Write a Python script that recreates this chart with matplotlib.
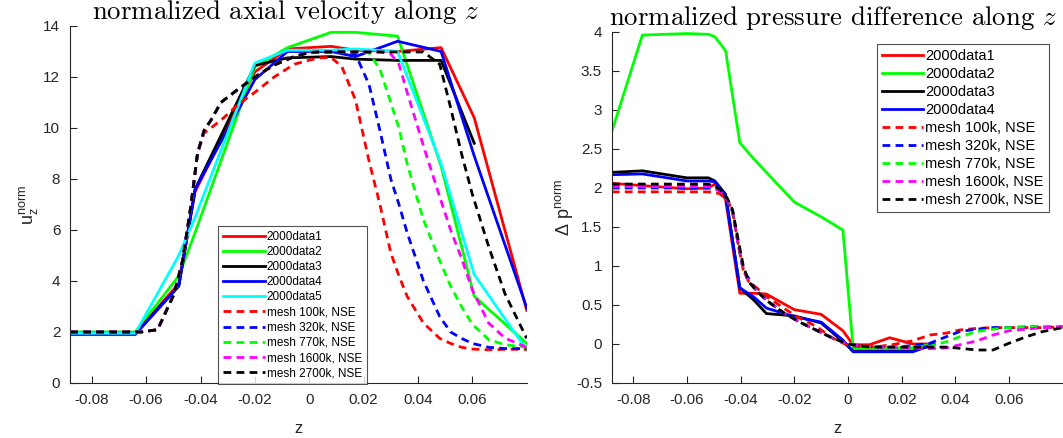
import matplotlib
matplotlib.use("Agg")
import matplotlib.pyplot as plt
from matplotlib.ticker import FuncFormatter, MultipleLocator, FixedLocator

plt.rcParams["font.family"] = ["Liberation Sans", "DejaVu Sans"]
plt.rcParams["mathtext.fontset"] = "custom"
plt.rcParams["mathtext.rm"] = "Liberation Sans"
plt.rcParams["mathtext.it"] = "Liberation Sans:italic"

# --- left panel: normalized axial velocity -------------------------------
z_exp = [-0.088, -0.064, -0.048, -0.042, -0.020, -0.008, 0.008, 0.017, 0.0325, 0.0485, 0.0607, 0.080]
u_data1 = [1.95, 1.95, 3.9, 7.5, 12.2, 13.1, 13.2, 13.05, 13.0, 13.15, 10.4, 2.85]
u_data2 = [2.0, 2.0, 4.2, 5.9, 12.4, 13.15, 13.75, 13.75, 13.6, 8.5, 3.4, 1.55]
u_data3 = [1.95, 1.95, 3.8, 7.6, 12.45, 12.75, 12.8, 12.7, 12.65, 12.65, 9.4]
u_data4 = [1.9, 1.9, 3.8, 7.6, 11.9, 13.0, 13.0, 12.8, 13.4, 13.0, 8.9, 2.95]
u_data5 = [1.95, 1.95, 5.0, 6.5, 12.55, 13.05, 13.05, 13.1, 13.0, 8.6, 4.25, 1.3]

z_sim = [-0.088, -0.062, -0.0558, -0.0497, -0.0466, -0.0436, -0.0411, -0.0387, -0.0362, -0.0325,
         -0.0264, -0.020, -0.0129, -0.0055, 0.0, 0.004, 0.008, 0.012, 0.017, 0.022, 0.026, 0.030,
         0.033, 0.036, 0.042, 0.048, 0.052, 0.056, 0.060, 0.066, 0.072, 0.080]
u_100k = [2.0, 2.0, 2.09, 3.5, 4.8, 6.9, 9.0, 9.8, 10.0, 10.3, 10.9, 11.4, 12.0, 12.5, 12.66, 12.75,
          12.77, 12.4, 11.1, 8.7, 7.0, 5.1, 4.2, 3.4, 2.35, 1.75, 1.55, 1.4, 1.33, 1.3, 1.32, 1.32]
u_320k = [2.0, 2.0, 2.09, 3.5, 4.8, 6.9, 9.0, 9.9, 10.3, 11.0, 11.5, 12.0, 12.47, 12.8, 12.96, 12.98,
          12.98, 12.98, 12.9, 11.7, 9.9, 8.0, 7.0, 5.9, 4.0, 2.6, 2.0, 1.75, 1.55, 1.4, 1.35, 1.35]
u_770k = [2.0, 2.0, 2.09, 3.5, 4.8, 6.9, 9.0, 9.9, 10.3, 11.0, 11.5, 12.0, 12.47, 12.8, 12.96, 12.98,
          12.98, 12.98, 12.98, 12.95, 12.3, 11.0, 10.0, 8.6, 6.4, 4.8, 3.8, 3.0, 2.3, 1.7, 1.5, 1.4]
u_1600k = [2.0, 2.0, 2.09, 3.5, 4.8, 6.9, 9.0, 9.9, 10.3, 11.0, 11.5, 12.0, 12.47, 12.8, 12.96, 12.98,
           12.98, 12.98, 12.98, 12.98, 12.98, 12.9, 12.5, 11.4, 9.3, 7.3, 6.0, 4.9, 3.65, 2.35, 1.76, 1.4]
u_2700k = [2.0, 2.0, 2.09, 3.5, 4.8, 6.9, 9.0, 9.9, 10.3, 11.0, 11.5, 12.0, 12.47, 12.8, 12.96, 12.98,
           12.98, 12.98, 12.98, 12.98, 12.98, 12.98, 12.98, 12.98, 12.98, 12.5, 10.8, 9.0, 7.4, 5.35, 3.5, 1.75]

# --- right panel: normalized pressure difference -------------------------
z_pexp = [-0.088, -0.0766, -0.060, -0.052, -0.0496, -0.0456, -0.0403, -0.035, -0.0304, -0.020,
          -0.010, -0.0019, 0.0019, 0.008, 0.0155, 0.0242, 0.032]
p_data1 = [2.06, 2.03, 1.99, 2.0, 2.05, 1.85, 0.65, 0.65, 0.64, 0.44, 0.38, 0.17, -0.01, -0.01, 0.08, 0.0, 0.0]
p_data2 = [2.72, 3.96, 3.98, 3.97, 3.94, 3.76, 2.58, 2.37, 2.2, 1.82, 1.63, 1.46, -0.05, -0.05, -0.05, -0.05, 0.0]
p_data3 = [2.20, 2.22, 2.13, 2.13, 2.09, 1.92, 0.72, 0.56, 0.39, 0.36, 0.27, 0.03, -0.09, -0.09, -0.09, -0.09, -0.01]
p_data4 = [2.17, 2.18, 2.09, 2.09, 2.08, 1.90, 0.72, 0.60, 0.46, 0.35, 0.28, 0.05, -0.10, -0.10, -0.10, -0.10, 0.0]

z_psim = [-0.088, -0.052, -0.048, -0.045, -0.043, -0.041, -0.039, -0.037, -0.034, -0.030, -0.024,
          -0.018, -0.012, -0.006, 0.0, 0.006, 0.012, 0.018, 0.024, 0.0305, 0.0367, 0.0417, 0.048,
          0.054, 0.060, 0.0665, 0.0726, 0.080]
p_100k = [1.95, 1.95, 1.93, 1.85, 1.7, 1.3, 0.95, 0.80, 0.72, 0.60, 0.46, 0.33, 0.23, 0.08, -0.02,
          -0.04, -0.03, 0.0, 0.04, 0.115, 0.14, 0.18, 0.20, 0.21, 0.21, 0.21, 0.21, 0.22]
p_320k = [2.0, 2.0, 1.97, 1.85, 1.7, 1.3, 0.95, 0.84, 0.68, 0.55, 0.40, 0.28, 0.18, 0.08, 0.0,
          -0.03, -0.04, -0.04, -0.02, 0.01, 0.094, 0.16, 0.19, 0.21, 0.21, 0.22, 0.22, 0.22]
p_770k = [2.02, 2.02, 1.97, 1.85, 1.7, 1.3, 0.95, 0.80, 0.68, 0.55, 0.40, 0.28, 0.18, 0.08, 0.0,
          -0.03, -0.04, -0.04, -0.04, -0.03, 0.03, 0.094, 0.16, 0.19, 0.21, 0.22, 0.22, 0.22]
p_1600k = [2.02, 2.02, 1.97, 1.85, 1.7, 1.3, 0.95, 0.80, 0.68, 0.55, 0.40, 0.28, 0.18, 0.08, 0.0,
           -0.03, -0.04, -0.04, -0.05, -0.06, -0.05, -0.01, 0.04, 0.115, 0.17, 0.19, 0.21, 0.22]
p_2700k = [2.05, 2.05, 1.99, 1.87, 1.72, 1.35, 1.0, 0.80, 0.68, 0.55, 0.40, 0.28, 0.18, 0.08, 0.0,
           -0.03, -0.04, -0.04, -0.04, -0.04, -0.04, -0.055, -0.077, -0.077, 0.01, 0.094, 0.16, 0.21]

exp_labels = ["2000data1", "2000data2", "2000data3", "2000data4", "2000data5"]
sim_labels = ["mesh 100k, NSE", "mesh 320k, NSE", "mesh 770k, NSE",
              "mesh 1600k, NSE", "mesh 2700k, NSE"]
exp_colors = ["#ff0000", "#00ff00", "#000000", "#0000ff", "#00ffff"]
sim_colors = ["#ff0000", "#0000ff", "#00ff00", "#ff00ff", "#000000"]
x_ticks = [-0.08, -0.06, -0.04, -0.02, 0.0, 0.02, 0.04, 0.06]

AX_GRAY = "#262626"
LW = 2.0
DASH = (2.8, 1.9)

fig = plt.figure(figsize=(10.63, 4.38), dpi=100)
ax1 = fig.add_axes([0.0659, 0.1256, 0.4296, 0.8151])
ax2 = fig.add_axes([0.5755, 0.1256, 0.4243, 0.8014])


def style(ax):
    for s in ("top", "right"):
        ax.spines[s].set_visible(False)
    for s in ("left", "bottom"):
        ax.spines[s].set_color(AX_GRAY)
        ax.spines[s].set_linewidth(0.8)
    ax.tick_params(direction="in", length=5, width=0.8, colors=AX_GRAY,
                   labelsize=11, labelcolor=AX_GRAY, pad=7)
    ax.xaxis.set_major_formatter(FuncFormatter(lambda v, p: f"{v:g}"))
    ax.yaxis.set_major_formatter(FuncFormatter(lambda v, p: f"{v:g}"))
    ax.set_xlim(-0.088, 0.080)
    ax.xaxis.set_major_locator(FixedLocator(x_ticks))
    ax.set_xlabel("z", fontsize=12, color=AX_GRAY, labelpad=10)


# left
u_exp = [u_data1, u_data2, u_data3, u_data4, u_data5]
u_sim = [u_100k, u_320k, u_770k, u_1600k, u_2700k]
for vals, c, lab in zip(u_exp, exp_colors, exp_labels):
    ax1.plot(z_exp[:len(vals)], vals, color=c, lw=LW, label=lab)
for vals, c, lab in zip(u_sim, sim_colors, sim_labels):
    ax1.plot(z_sim, vals, color=c, lw=LW, ls="--", dashes=DASH, label=lab)
style(ax1)
ax1.set_ylim(0, 14)
ax1.yaxis.set_major_locator(MultipleLocator(2))
ax1.set_ylabel(r"u$_{\rm z}^{\rm norm}$", fontsize=13, color=AX_GRAY, labelpad=2)
ax1.set_title("normalized axial velocity along $z$", fontsize=19.3,
              fontfamily="cmr10", math_fontfamily="cm", x=0.473, pad=2)
leg1 = ax1.legend(loc="lower left", bbox_to_anchor=(0.325, -0.003), fontsize=8.5,
                  handlelength=3.5, handletextpad=0.2, labelspacing=0.27,
                  borderpad=0.4, frameon=True, fancybox=False, borderaxespad=0)
leg1.get_frame().set_edgecolor(AX_GRAY)
leg1.get_frame().set_linewidth(0.8)

# right
p_exp = [p_data1, p_data2, p_data3, p_data4]
p_sim = [p_100k, p_320k, p_770k, p_1600k, p_2700k]
for vals, c, lab in zip(p_exp, exp_colors, exp_labels):
    ax2.plot(z_pexp, vals, color=c, lw=LW, label=lab)
for vals, c, lab in zip(p_sim, sim_colors, sim_labels):
    ax2.plot(z_psim, vals, color=c, lw=LW, ls="--", dashes=DASH, label=lab)
style(ax2)
ax2.set_ylim(-0.5, 4)
ax2.yaxis.set_major_locator(MultipleLocator(0.5))
ax2.set_ylabel(r"$\Delta$ p$^{\rm norm}$", fontsize=13, color=AX_GRAY, labelpad=0)
ax2.set_title("normalized pressure difference along $z$", fontsize=19.3,
              fontfamily="cmr10", math_fontfamily="cm", x=0.49, pad=2)
leg2 = ax2.legend(loc="upper right", bbox_to_anchor=(0.969, 0.967), fontsize=10.5,
                  handlelength=2.8, handletextpad=0.15, labelspacing=0.28,
                  borderpad=0.35, frameon=True, fancybox=False, borderaxespad=0)
leg2.get_frame().set_edgecolor(AX_GRAY)
leg2.get_frame().set_linewidth(0.8)

fig.savefig("out.png", dpi=100)
